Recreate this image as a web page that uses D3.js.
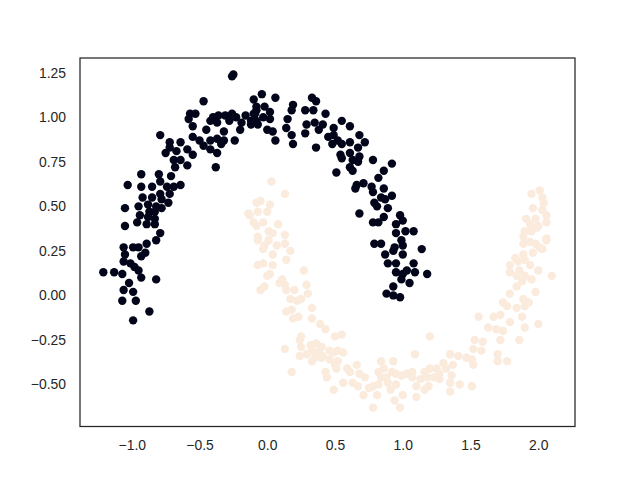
<!DOCTYPE html>
<html>
<head>
<meta charset="utf-8">
<script src="https://cdn.jsdelivr.net/npm/d3@7"></script>
<style>
  html, body { margin: 0; padding: 0; background: #ffffff; }
  svg { display: block; }
  text { font-family: "Liberation Sans", Arial, sans-serif; }
</style>
</head>
<body>
<svg id="chart" width="640" height="480"></svg>
<script>
// ---- Data ----
const xTicks = [-1.0, -0.5, 0.0, 0.5, 1.0, 1.5, 2.0];
const yTicks = [-0.50, -0.25, 0.00, 0.25, 0.50, 0.75, 1.00, 1.25];
const xDomain = [-1.382, 2.271];
const yDomain = [-0.736, 1.333];

// class 0 (upper moon, dark)
const class0 = [
[-0.26,1.23],[-0.25,1.24],[-0.47,1.09],[-0.10,1.10],[-0.57,1.02],[-0.53,1.02],[-0.58,0.99],[-0.40,1.00],[-0.36,1.01],[-0.31,1.01],
[-0.26,1.02],[-0.23,1.00],[-0.16,1.01],[-0.10,1.02],[-0.08,1.04],[-0.55,0.95],[-0.42,0.98],[-0.37,0.97],[-0.28,0.98],[-0.19,0.97],
[-0.12,0.96],[-0.08,0.98],[-0.45,0.93],[-0.32,0.92],[-0.20,0.93],[-0.79,0.90],[-0.55,0.89],[-0.50,0.87],[-0.42,0.87],[-0.37,0.88],
[-0.32,0.87],[-0.24,0.87],[-0.72,0.86],[-0.64,0.86],[-0.75,0.80],[-0.72,0.83],[-0.67,0.81],[-0.59,0.82],[-0.55,0.79],[-0.47,0.84],
[-0.42,0.82],[-0.37,0.80],[-0.34,0.85],[-0.69,0.76],[-0.64,0.76],[-0.59,0.73],[-0.68,0.72],[-0.38,0.72],[-0.93,0.68],[-0.80,0.68],
[-0.71,0.67],[-0.64,0.62],[-0.74,0.61],[-0.79,0.64],[-1.03,0.62],[-0.93,0.61],[-0.85,0.61],[-0.79,0.57],[-0.72,0.57],[-0.69,0.61],
[-0.92,0.55],[-0.85,0.55],[-0.78,0.54],[-1.05,0.49],[-0.95,0.50],[-0.88,0.51],[-0.82,0.50],[-0.87,0.47],[-0.83,0.47],[-0.78,0.49],
[-0.73,0.52],[-0.94,0.45],[-0.88,0.44],[-0.83,0.43],[-1.05,0.39],[-0.96,0.41],[-0.89,0.40],[-0.83,0.40],[-0.79,0.35],[-0.82,0.31],
[-1.06,0.27],[-0.99,0.27],[-0.95,0.27],[-0.89,0.29],[-0.90,0.24],[-0.93,0.22],[-1.05,0.23],[-1.06,0.19],[-1.01,0.18],[-0.98,0.16],
[-0.95,0.14],[-1.21,0.13],[-1.13,0.13],[-1.07,0.12],[-0.93,0.10],[-0.82,0.09],[-1.02,0.07],[-1.06,0.03],[-0.99,0.02],[-0.97,-0.03],
[-1.07,-0.03],[-0.87,-0.09],[-0.99,-0.14],
[-0.04,1.13],[0.06,1.11],[0.33,1.11],[0.36,1.09],[0.19,1.07],[0.18,1.04],[0.28,1.04],[0.34,1.04],[-0.08,1.06],[-0.02,1.06],
[0.02,1.03],[-0.09,1.02],[-0.03,1.00],[0.02,0.99],[0.43,1.02],[-0.12,0.98],[-0.07,0.96],[0.15,0.99],[0.14,0.94],[0.29,0.96],
[0.35,0.97],[0.38,0.93],[0.41,0.96],[0.49,0.94],[0.55,0.98],[0.61,0.95],[0.00,0.93],[0.04,0.92],[0.06,0.87],[0.18,0.90],
[0.19,0.85],[0.28,0.91],[0.45,0.89],[0.49,0.90],[0.52,0.87],[0.48,0.85],[0.55,0.85],[0.61,0.86],[0.68,0.90],[0.72,0.86],
[0.67,0.83],[0.36,0.83],[0.54,0.79],[0.55,0.77],[0.61,0.80],[0.63,0.76],[0.68,0.78],[0.67,0.75],[0.78,0.76],[0.92,0.74],
[0.86,0.70],[0.82,0.66],[0.61,0.72],[0.63,0.70],[0.51,0.69],[0.66,0.62],[0.71,0.63],[0.65,0.60],[0.77,0.61],[0.78,0.58],
[0.86,0.60],[0.92,0.56],[0.84,0.55],[0.79,0.52],[0.87,0.54],[0.81,0.50],[0.89,0.49],[0.68,0.46],[0.86,0.44],[0.78,0.41],
[0.82,0.41],[0.98,0.45],[1.00,0.42],[0.95,0.40],[0.95,0.35],[1.02,0.36],[1.08,0.36],[0.99,0.31],[0.79,0.29],[0.84,0.29],
[0.94,0.27],[1.00,0.28],[1.14,0.26],[0.87,0.23],[0.93,0.25],[1.00,0.23],[0.89,0.18],[0.95,0.18],[1.08,0.18],[0.95,0.13],
[1.00,0.12],[1.03,0.14],[1.09,0.13],[0.99,0.09],[1.05,0.07],[0.93,0.05],[0.88,0.01],[0.93,0.00],[0.98,-0.01],[1.18,0.12]
];

// class 1 (lower moon, light)
const class1 = [
[0.03,0.64],[0.13,0.57],[-0.05,0.53],[0.02,0.51],[-0.07,0.47],[0.00,0.47],[-0.13,0.45],[0.08,0.40],[-0.03,0.41],[-0.10,0.41],
[0.01,0.36],[0.04,0.35],[0.13,0.34],[-0.07,0.33],[-0.02,0.28],[0.07,0.28],[0.13,0.29],[-0.14,0.46],[-0.08,0.52],[-0.08,0.39],
[-0.07,0.31],[-0.07,0.17],[-0.05,0.03],[0.01,0.31],[0.17,0.25],[-0.03,0.26],[0.04,0.23],[-0.03,0.18],[0.04,0.17],[0.14,0.20],
[0.02,0.12],[0.00,0.11],[0.11,0.09],[0.09,0.07],[0.13,0.06],[0.27,0.14],[-0.02,0.05],[0.14,0.03],[0.20,0.03],[0.29,0.06],
[0.30,0.01],[0.17,-0.02],[0.22,-0.03],[0.25,-0.02],[0.14,-0.09],[0.18,-0.08],[0.19,-0.13],[0.23,-0.12],[0.33,-0.07],[0.33,-0.13],
[0.39,-0.16],[0.43,-0.19],[0.25,-0.23],[0.24,-0.25],[0.50,-0.23],[0.55,-0.22],[0.13,-0.30],[0.25,-0.29],[0.32,-0.28],[0.36,-0.27],
[0.40,-0.29],[0.46,-0.31],[0.33,-0.31],[0.38,-0.32],[0.29,-0.33],[0.35,-0.35],[0.41,-0.34],[0.49,-0.32],[0.52,-0.31],[0.56,-0.32],
[0.24,-0.34],[0.33,-0.37],[0.40,-0.35],[0.46,-0.36],[0.50,-0.39],[0.52,-0.37],[0.18,-0.43],[0.43,-0.43],[0.44,-0.46],[0.51,-0.41],
[0.59,-0.41],[0.61,-0.43],[0.66,-0.39],[0.68,-0.44],[0.72,-0.46],[0.56,-0.49],[0.49,-0.53],[0.63,-0.49],[0.67,-0.51],[0.71,-0.56],
[0.75,-0.52],[0.78,-0.51],[0.82,-0.50],[0.81,-0.56],[0.84,-0.37],[0.86,-0.41],[0.82,-0.43],[0.88,-0.46],[0.84,-0.46],[0.93,-0.37],
[0.92,-0.43],[0.95,-0.44],[0.99,-0.45],[1.03,-0.44],[1.07,-0.43],[1.07,-0.46],[0.89,-0.49],[0.95,-0.50],[0.91,-0.53],[1.00,-0.56],
[0.94,-0.59],[1.10,-0.57],[1.10,-0.51],[1.09,-0.33],[0.78,-0.63],[0.98,-0.63],
[1.89,0.29],[1.94,0.30],[2.01,0.27],[2.06,0.31],[1.96,0.24],[2.03,0.26],[1.79,0.17],[1.85,0.19],[1.90,0.20],[1.86,0.14],
[1.79,0.13],[1.94,0.17],[2.00,0.14],[1.84,0.11],[1.90,0.11],[1.95,0.09],[2.10,0.11],[1.84,0.05],[1.88,0.08],[1.98,0.02],
[1.79,0.01],[1.74,-0.04],[1.77,-0.06],[1.84,-0.07],[1.90,-0.06],[1.93,-0.04],[1.89,-0.02],[1.56,-0.12],[1.67,-0.12],[1.72,-0.11],
[1.79,-0.15],[1.88,-0.12],[2.00,-0.16],[1.90,-0.18],[1.63,-0.18],[1.69,-0.19],[1.74,-0.20],[1.72,-0.25],[1.86,-0.25],[1.20,-0.23],
[1.53,-0.25],[1.59,-0.26],[1.52,-0.30],[1.58,-0.31],[1.35,-0.33],[1.41,-0.34],[1.47,-0.35],[1.52,-0.39],[1.51,-0.36],[1.70,-0.33],
[1.70,-0.37],[1.77,-0.37],[1.30,-0.38],[1.37,-0.39],[1.32,-0.41],[1.25,-0.41],[1.20,-0.41],[1.16,-0.43],[1.27,-0.44],[1.23,-0.46],
[1.18,-0.46],[1.13,-0.47],[1.36,-0.45],[1.27,-0.47],[1.19,-0.51],[1.16,-0.53],[1.35,-0.49],[1.42,-0.50],[1.51,-0.51],[1.35,-0.54],
[2.01,0.59],[1.95,0.57],[2.03,0.55],[2.04,0.52],[1.96,0.49],[2.03,0.48],[1.91,0.43],[1.98,0.43],[2.06,0.45],[2.06,0.41],
[1.94,0.40],[1.99,0.38],[1.90,0.36],[1.89,0.33],[1.95,0.36],[2.00,0.39],[2.06,0.32],[1.98,0.29],[1.89,0.23],[1.83,0.21]
];

const colors = ["#03051A", "#FAEBDD"]; // rocket colormap ends

// ---- Layout ----
(function () {
  const svg = d3.select("#chart");
  const mLeft = 80, mRight = 575, mTop = 58, mBottom = 426.5;

  const x = d3.scaleLinear().domain(xDomain).range([mLeft, mRight]);
  const y = d3.scaleLinear().domain(yDomain).range([mBottom, mTop]);

  svg.append("rect").attr("width", 640).attr("height", 480).attr("fill", "#ffffff");

  const gPts = svg.append("g");
  gPts.selectAll("circle.c1").data(class1).join("circle")
    .attr("class", "c1")
    .attr("cx", d => x(d[0])).attr("cy", d => y(d[1]))
    .attr("r", 4.2).attr("fill", colors[1]);
  gPts.selectAll("circle.c0").data(class0).join("circle")
    .attr("class", "c0")
    .attr("cx", d => x(d[0])).attr("cy", d => y(d[1]))
    .attr("r", 4.2).attr("fill", colors[0]);

  const xAxis = d3.axisBottom(x).tickValues(xTicks).tickFormat(d3.format(".1f")).tickSize(0).tickPadding(14);
  const yAxis = d3.axisLeft(y).tickValues(yTicks).tickFormat(d3.format(".2f")).tickSize(0).tickPadding(14);

  const gx = svg.append("g").attr("transform", `translate(0,${mBottom})`).call(xAxis);
  const gy = svg.append("g").attr("transform", `translate(${mLeft},0)`).call(yAxis);
  [gx, gy].forEach(g => {
    g.select(".domain").remove();
    g.selectAll("text")
      .attr("fill", "#262626")
      .style("font-family", "'Liberation Sans', Arial, sans-serif")
      .style("font-size", "13.9px");
  });

  svg.append("rect")
    .attr("x", mLeft).attr("y", mTop)
    .attr("width", mRight - mLeft).attr("height", mBottom - mTop)
    .attr("fill", "none").attr("stroke", "#262626").attr("stroke-width", 1.25);
})();
</script>
</body>
</html>
